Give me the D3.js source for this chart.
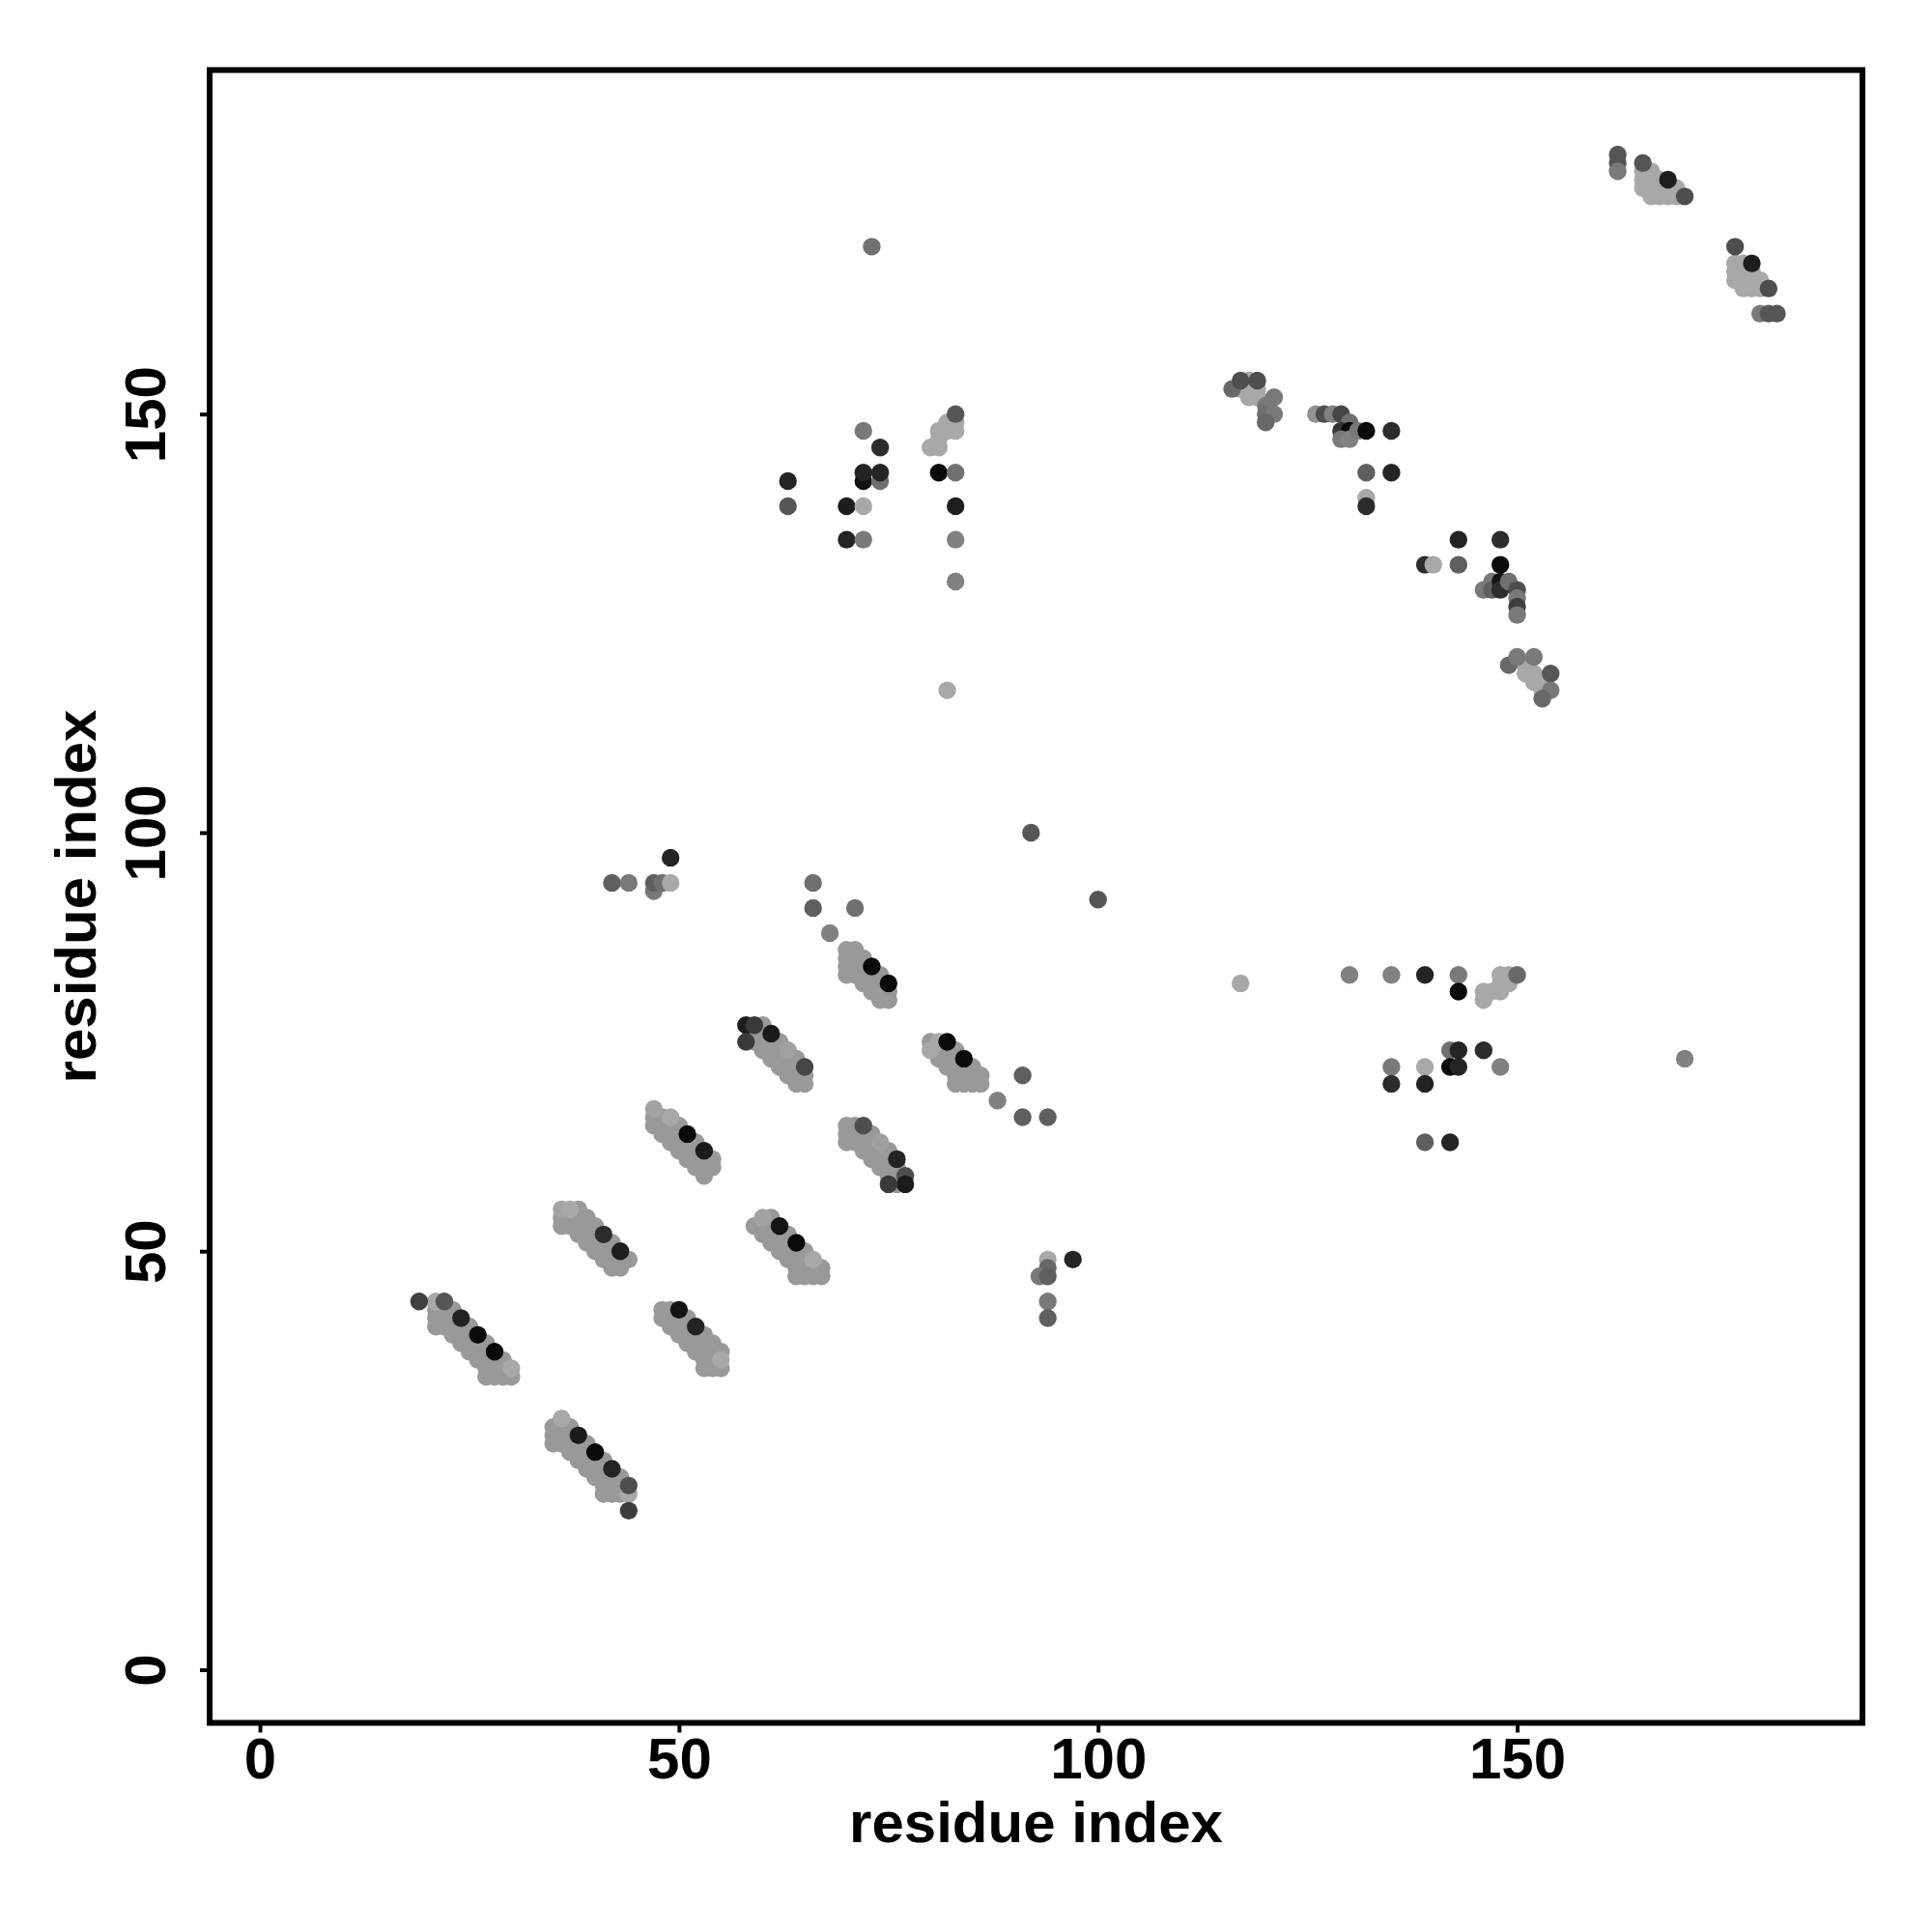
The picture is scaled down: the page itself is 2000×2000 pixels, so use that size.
<!DOCTYPE html>
<html><head><meta charset="utf-8">
<script src="https://cdn.jsdelivr.net/npm/d3@7"></script>
<style>body{margin:0;background:#fff}</style>
</head><body>
<svg id="chart" width="2000" height="2000"></svg>
<script>
// tick labels
const xTicks = [0, 50, 100, 150];
const yTicks = [0, 50, 100, 150];
const xTitle = "residue index";
const yTitle = "residue index";

// contacts: [residue i, residue j, score 0..1]  (body points first, highlighted points after)
const bandA = [
 [23,43,.16],[25,41,.16],[27,39,.16],[29,37,.16],
 [22,43,.16],[23,42,.16],[24,41,.16],[25,40,.16],[26,39,.16],[27,38,.16],[28,37,.16],[29,36,.16],[30,35,.16],
 [21,43,.16],[22,42,.16],[23,41,.16],[24,40,.16],[25,39,.16],[26,38,.16],[27,37,.16],[28,36,.16],[29,35,.16],
 [21,42,.16],[22,41,.16],[23,40,.16],[24,39,.16],[25,38,.16],[26,37,.16],[27,36,.16],[28,35,.16],
 [21,41,.16],[27,35,.16],
 [21,44,.07],[19,44,.68],[22,44,.56],[24,42,.86],[26,40,1],[28,38,1],[30,36,.07]
];
const bandB = [
 [37,29,.16],[39,27,.16],[41,25,.16],[43,23,.16],
 [36,29,.16],[37,28,.16],[38,27,.16],[39,26,.16],[40,25,.16],[41,24,.16],[42,23,.16],[43,22,.16],
 [35,29,.16],[36,28,.16],[37,27,.16],[38,26,.16],[39,25,.16],[40,24,.16],[41,23,.16],[42,22,.16],[43,21,.16],
 [35,28,.16],[36,27,.16],[37,26,.16],[38,25,.16],[39,24,.16],[40,23,.16],[41,22,.16],[42,21,.16],
 [35,27,.16],[41,21,.16],[44,21,.07],
 [36,30,.07],[38,28,.9],[40,26,1],[42,24,.85],[44,22,.6],[44,19,.7]
];
const bandC = [
 [51,42,.16],[53,40,.16],[54,39,.16],[55,38,.16],
 [49,43,.16],[50,42,.16],[51,41,.16],[52,40,.16],[53,39,.16],[54,38,.16],
 [48,43,.16],[49,42,.16],[50,41,.16],[51,40,.16],[52,39,.16],[53,38,.16],[54,37,.16],[55,36,.16],
 [48,42,.16],[49,41,.16],[50,40,.16],[51,39,.16],[52,38,.16],[53,37,.16],[54,36,.16],[53,36,.16],
 [50,43,.95],[52,41,.85],[55,37,.07]
];
const bandD = [
 [50,65,.16],[52,63,.16],[54,61,.16],
 [48,66,.16],[49,65,.16],[50,64,.16],[51,63,.16],[52,62,.16],[53,61,.16],[54,60,.16],
 [47,66,.16],[48,65,.16],[49,64,.16],[50,63,.16],[51,62,.16],[52,61,.16],[53,60,.16],[53,59,.16],
 [47,65,.16],[48,64,.16],[49,63,.16],[50,62,.16],[51,61,.16],[52,60,.16],
 [47,67,.1],[49,66,.07],[51,64,1],[53,62,.9]
];
const bandE = [
 [38,55,.16],[39,54,.16],[40,53,.16],[42,51,.16],[44,49,.16],
 [38,54,.16],[39,53,.16],[40,52,.16],[41,51,.16],[42,50,.16],[43,49,.16],
 [37,54,.16],[38,53,.16],[39,52,.16],[40,51,.16],[41,50,.16],[42,49,.16],[43,48,.16],
 [36,54,.16],[37,53,.16],[38,52,.16],[39,51,.16],[40,50,.16],[41,49,.16],[42,48,.16],[36,53,.16],
 [36,55,.1],[37,55,.07],[41,52,.8],[43,50,.88]
];
const bandF = [
 [61,54,.16],[63,52,.16],[65,50,.16],[67,48,.16],
 [61,53,.16],[62,52,.16],[63,51,.16],[64,50,.16],[65,49,.16],[66,48,.16],[67,47,.16],
 [60,53,.16],[61,52,.16],[62,51,.16],[63,50,.16],[64,49,.16],[65,48,.16],[66,47,.16],
 [59,53,.16],[60,52,.16],[61,51,.16],[62,50,.16],[63,49,.16],[64,48,.16],[65,47,.16],[64,47,.16],
 [60,54,.1],[62,53,.95],[64,51,1],[66,49,.07]
];
const bandG = [
 [73,64,.16],[75,62,.16],
 [71,65,.16],[72,64,.16],[73,63,.16],[74,62,.16],[75,61,.16],[76,60,.16],
 [70,65,.16],[71,64,.16],[72,63,.16],[73,62,.16],[74,61,.16],[75,60,.16],[76,59,.16],
 [70,64,.16],[71,63,.16],[72,62,.16],[73,61,.16],[74,60,.16],[75,59,.16],[76,58,.16],[70,63,.16],
 [72,65,.6],[74,63,.12],[76,61,.85],[77,59,.6],[77,58,.9],[75,58,.72]
];
const bandH = [
 [60,77,.16],[62,75,.16],[64,73,.16],
 [60,76,.16],[61,75,.16],[62,74,.16],[63,73,.16],[64,72,.16],[65,71,.16],
 [59,76,.16],[60,75,.16],[61,74,.16],[62,73,.16],[63,72,.16],[64,71,.16],[65,70,.16],
 [59,75,.16],[60,74,.16],[61,73,.16],[62,72,.16],[63,71,.16],[64,70,.16],
 [58,77,.88],[59,77,.72],[58,75,.72],[61,76,.9],[63,74,.12],[65,72,.65]
];
const bandI = [
 [71,86,.16],[72,85,.16],[74,83,.16],
 [70,86,.16],[71,85,.16],[72,84,.16],[73,83,.16],[74,82,.16],[75,81,.16],
 [70,85,.16],[71,84,.16],[72,83,.16],[73,82,.16],[74,81,.16],[75,80,.16],
 [70,84,.16],[71,83,.16],[72,82,.16],[73,81,.16],[74,80,.16],[70,83,.16],
 [73,84,1],[75,82,1]
];
const bandJ = [
 [83,74,.16],[85,72,.16],[86,71,.16],
 [82,74,.16],[83,73,.16],[84,72,.16],[85,71,.16],[86,70,.16],
 [80,75,.16],[81,74,.16],[82,73,.16],[83,72,.16],[84,71,.16],[85,70,.16],
 [81,73,.16],[82,72,.16],[83,71,.16],[84,70,.16],[83,70,.16],
 [80,74,.07],[81,75,.07],[82,75,1],[84,73,1]
];
const topRight = [
 [165,179,.07],[166,179,.07],[166,178,.07],[167,178,.07],[165,178,.07],[165,177,.07],[166,177,.07],
 [167,177,.07],[168,177,.07],[166,176,.07],[167,176,.07],[168,176,.07],[169,176,.07],[169,177,.07],
 [162,181,.56],[162,180,.56],[162,179,.35],[165,180,.56],[168,178,.88],[170,176,.6],
 [176,168,.07],[176,167,.07],[177,168,.07],[177,167,.07],[177,166,.07],[178,167,.07],
 [178,166,.07],[178,165,.07],[179,166,.07],[179,165,.07],[177,165,.07],[176,166,.07],
 [176,170,.6],[178,168,.88],[180,165,.6],[179,162,.35],[180,162,.55],[181,162,.55]
];
const upperMid = [
 [80,146,.07],[81,146,.07],[81,147,.07],[81,148,.07],[82,148,.07],[82,149,.07],[83,148,.07],[83,149,.07],
 [83,150,.55],[72,148,.35],[74,146,.8],[72,142,.95],[72,143,.85],[74,142,.4],[74,143,.85],
 [63,142,.85],[63,139,.55],[70,139,.88],[72,139,.07],[70,135,.85],[72,135,.35],
 [81,143,1],[83,143,.4],[83,139,.88],[83,135,.3],[83,130,.3],[82,117,.07],[73,170,.4]
];
const rightMid = [
 [117,153,.07],[118,153,.07],[118,152,.07],[119,152,.07],[119,153,.07],[118,154,.07],
 [116,153,.45],[117,154,.6],[119,154,.6],[121,152,.35],[120,151,.35],[120,150,.4],[121,150,.35],[120,149,.45],
 [126,150,.2],[127,150,.6],[128,150,.3],[129,150,.65],[130,149,.4],[129,148,.75],[130,148,1],
 [129,147,.35],[130,147,.3],[131,148,.35],[132,148,1],[135,148,.8],[132,143,.5],[135,143,.85],
 [132,140,.07],[132,139,.8],
 [143,135,.85],[148,135,.8],[139,132,.8],[140,132,.07],[143,132,.5],[148,132,1],
 [146,129,.35],[147,130,.35],[147,129,.5],[148,130,.95],[148,129,.8],[149,130,.4],
 [150,129,.6],[150,128,.35],[150,127,.7],[150,126,.35],
 [151,120,.07],[151,119,.07],[152,119,.07],[152,118,.07],[153,118,.07],[153,117,.07],
 [149,120,.45],[150,121,.35],[152,121,.35],[154,119,.55],[154,117,.35],[153,116,.45]
];
const rightLow = [
 [117,82,.07],[130,83,.3],[135,83,.3],[139,83,.85],[143,83,.35],[143,81,1],
 [147,81,.07],[146,81,.07],[146,80,.07],[148,83,.07],[148,82,.07],[148,81,.07],[149,82,.07],[149,83,.07],
 [150,83,.45],[142,74,.4],[143,74,.85],[146,74,.8],[135,72,.35],[139,72,.07],[142,72,1],[143,72,.85],
 [148,72,.3],[135,70,.8],[139,70,.85],[139,63,.5],[142,63,.85],[170,73,.3]
];
const middle = [
 [49,97,.85],[42,94,.5],[44,94,.35],[47,93,.35],[47,94,.5],[48,94,.4],[49,94,.07],
 [66,94,.4],[66,91,.5],[71,91,.4],[68,88,.3],
 [91,71,.5],[88,68,.3],[91,66,.5],[94,66,.5],
 [94,49,.07],[97,49,.85],[94,48,.45],[93,47,.35],[94,47,.5],[94,44,.35],[94,42,.5],
 [92,100,.55],[100,92,.55]
];

const groups = [bandA, bandB, bandC, bandD, bandE, bandF, bandG, bandH, bandI, bandJ,
                topRight, upperMid, rightMid, rightLow, middle];
const points = groups.flat();

const svg = d3.select("#chart");
svg.append("rect").attr("width", 2000).attr("height", 2000).attr("fill", "#fff");

const x = d3.scaleLinear().domain([-6, 191.2]).range([217, 1928]);
const y = d3.scaleLinear().domain([-6.35, 191.1]).range([1783.5, 72.5]);
const shade = d3.scaleLinear().domain([0, 1]).range(["#b4b4b4", "#0a0a0a"]);

const font = "'Liberation Sans', Arial, Helvetica, sans-serif";

// points
svg.append("g").selectAll("circle").data(points).join("circle")
  .attr("cx", d => x(d[0])).attr("cy", d => y(d[1])).attr("r", 9.2)
  .attr("fill", d => shade(d[2]));

// axes
const xAxis = svg.append("g").attr("transform", `translate(0,${y.range()[0]})`)
  .call(d3.axisBottom(x).tickValues(xTicks).tickSize(10).tickFormat(d3.format("d")));
const yAxis = svg.append("g").attr("transform", `translate(${x.range()[0]},0)`)
  .call(d3.axisLeft(y).tickValues(yTicks).tickSize(10).tickFormat(d3.format("d")));
[xAxis, yAxis].forEach(g => {
  g.select(".domain").remove();
  g.selectAll(".tick line").attr("stroke", "#000").attr("stroke-width", 4);
  g.selectAll(".tick text").attr("fill", "#000").attr("font-family", font)
    .attr("font-weight", "bold").attr("font-size", 60);
});
xAxis.selectAll(".tick text").attr("y", 57).attr("dy", null);
yAxis.selectAll(".tick text").attr("x", null).attr("dy", null)
  .attr("text-anchor", "middle").attr("transform", "translate(-46,0) rotate(-90)");

// frame
svg.append("rect")
  .attr("x", x.range()[0]).attr("y", y.range()[1])
  .attr("width", x.range()[1] - x.range()[0]).attr("height", y.range()[0] - y.range()[1])
  .attr("fill", "none").attr("stroke", "#000").attr("stroke-width", 6);

// titles
svg.append("text").attr("x", (x.range()[0] + x.range()[1]) / 2).attr("y", 1907)
  .attr("text-anchor", "middle").attr("font-family", font).attr("font-weight", "bold")
  .attr("font-size", 60).text(xTitle);
svg.append("text").attr("transform", `translate(99,${(y.range()[0] + y.range()[1]) / 2}) rotate(-90)`)
  .attr("text-anchor", "middle").attr("font-family", font).attr("font-weight", "bold")
  .attr("font-size", 60).text(yTitle);
</script>
</body></html>
